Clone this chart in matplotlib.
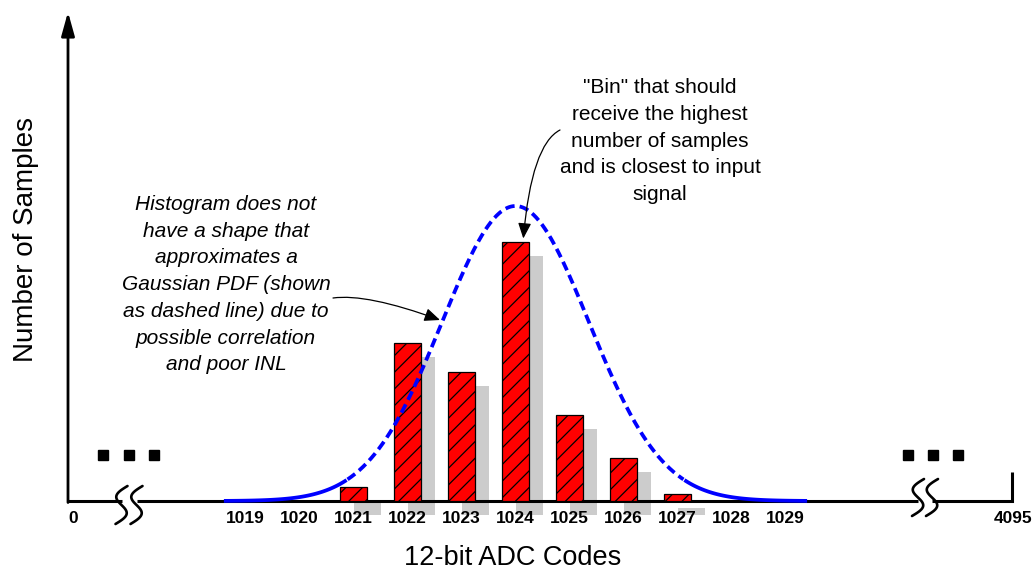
import numpy as np
import matplotlib
matplotlib.use("Agg")
import matplotlib.pyplot as plt
from matplotlib.transforms import Affine2D, ScaledTranslation

# ---------------- data ----------------
bin_codes = [1021, 1022, 1023, 1024, 1025, 1026, 1027]
bin_counts = [14, 158, 129, 259, 86, 43, 7]
axis_codes = [1019, 1020, 1021, 1022, 1023, 1024, 1025, 1026, 1027, 1028, 1029]
axis_end_labels = ["0", "4095"]
gauss_mean = 1024.0
gauss_sigma = 1.36
gauss_peak = 295.0
gauss_span = (1018.6, 1029.4)
gauss_dash_span = (1020.88, 1027.12)

left_note = ["Histogram does not", "have a shape that", "approximates a",
             "Gaussian PDF (shown", "as dashed line) due to",
             "possible correlation", "and poor INL"]
top_note = ['"Bin" that should', "receive the highest", "number of samples",
            "and is closest to input", "signal"]
x_title = "12-bit ADC Codes"
y_title = "Number of Samples"

# ---------------- layout ----------------
W, H = 1036, 571
DPI = 100
FONT = "Liberation Sans"
fig = plt.figure(figsize=(W / DPI, H / DPI), dpi=DPI)
ax = fig.add_axes([0, 0, 1, 1])
ax.axis("off")

px_per_code = 54.0
px_center = 515.5          # pixel x of code 1024
axis_y_px = 501.0          # pixel y of zero line
ax.set_xlim(1024 - px_center / px_per_code, 1024 + (W - px_center) / px_per_code)
ax.set_ylim(-(H - axis_y_px), axis_y_px)

# pixel (image) coordinate transform: x right, y down
pix = Affine2D().scale(1.0 / W, -1.0 / H).translate(0, 1) + fig.transFigure

# ---- shadows of bars (offset +14px, +14px) ----
shadow_off = ScaledTranslation(14 / DPI, -14 / DPI, fig.dpi_scale_trans)
shadows = ax.bar(bin_codes, bin_counts, width=0.51, color="#cccccc",
                 linewidth=0, zorder=1)
for p in shadows:
    p.set_transform(ax.transData + shadow_off)
    p.set_clip_on(False)

# ---- axes lines ----
axis_lw = 2.2
ax.plot([68, 121.5], [501, 501], color="black", lw=axis_lw, transform=pix,
        zorder=2, solid_capstyle="butt")
ax.plot([136.5, 918], [501, 501], color="black", lw=axis_lw, transform=pix,
        zorder=2, solid_capstyle="butt")
ax.plot([931.5, 1012, 1012], [501, 501, 472], color="black", lw=axis_lw,
        transform=pix, zorder=2, solid_capstyle="butt", solid_joinstyle="miter")

ax.annotate("", xy=(68, 12), xytext=(68, 502.5), xycoords=pix, textcoords=pix,
            arrowprops=dict(arrowstyle="-|>,head_length=0.72,head_width=0.2",
                            mutation_scale=20, lw=2.0, color="black",
                            shrinkA=0, shrinkB=0), zorder=2)

# break squiggles
s = np.linspace(-1, 1, 60)
def squiggle(xc, yc, h=19.0, a=8.0, b=6.0):
    xs = xc + a * np.sin(np.pi * s) - b * s
    ys = yc + h * s
    ax.plot(xs, ys, color="black", lw=1.9, transform=pix, zorder=2,
            solid_capstyle="round")

for xc in (121.5, 136.5):
    squiggle(xc, 505)
for xc in (918, 932):
    squiggle(xc, 497.5, h=18.5)

# ellipsis dots
for xs_ in ([103.3, 128.5, 154], [908, 933, 958]):
    ax.plot(xs_, [454.5] * 3, linestyle="none", marker="s", markersize=7.2,
            color="black", transform=pix, zorder=2)

# ---- red hatched bars ----
plt.rcParams["hatch.linewidth"] = 0.9
ax.bar(bin_codes, bin_counts, width=0.51, color="#ff0000", edgecolor="black",
       linewidth=0.9, hatch="//", zorder=3)

# ---- gaussian PDF ----
xg = np.linspace(gauss_span[0], gauss_span[1], 600)
yg = gauss_peak * np.exp(-0.5 * ((xg - gauss_mean) / gauss_sigma) ** 2)
left = xg <= gauss_dash_span[0]
right = xg >= gauss_dash_span[1]
mid = (xg >= gauss_dash_span[0]) & (xg <= gauss_dash_span[1])
ax.plot(xg[left], yg[left], color="#0000ff", lw=2.7, zorder=4,
        solid_capstyle="butt")
ax.plot(xg[right], yg[right], color="#0000ff", lw=2.7, zorder=4,
        solid_capstyle="butt")
ax.plot(xg[mid], yg[mid], color="#0000ff", lw=2.7, zorder=4,
        linestyle=(0, (2.5, 1.35)))

# ---- tick labels ----
tick_kw = dict(fontsize=12.5, fontweight="bold", family=FONT, ha="center",
               va="baseline", zorder=5)
label_y = -(523 - axis_y_px)
for c in axis_codes:
    ax.text(c, label_y, str(c), **tick_kw)
ax.text(73, 523, axis_end_labels[0], transform=pix, **tick_kw)
ax.text(1012.7, 523, axis_end_labels[1], transform=pix, **tick_kw)

# ---- axis titles ----
ax.text(512.5, 565, x_title, transform=pix, fontsize=19.5, family=FONT,
        ha="center", va="baseline")
ax.text(33, 240, y_title, transform=pix, fontsize=20, family=FONT,
        rotation=90, rotation_mode="anchor", ha="center", va="baseline")

# ---- notes ----
for i, line in enumerate(left_note):
    ax.text(226, 210 + 26.7 * i, line, transform=pix, fontsize=15,
            family=FONT, style="italic", ha="center", va="baseline", zorder=5)
for i, line in enumerate(top_note):
    ax.text(660, 93.3 + 26.7 * i, line, transform=pix, fontsize=15,
            family=FONT, ha="center", va="baseline", zorder=5)

arrow_kw = dict(arrowstyle="-|>,head_length=0.47,head_width=0.2",
                mutation_scale=20, lw=0.9, color="black",
                shrinkA=0, shrinkB=0)
ax.annotate("", xy=(440, 320), xytext=(333, 298), xycoords=pix,
            textcoords=pix, zorder=6,
            arrowprops=dict(connectionstyle="angle3,angleA=8,angleB=-20",
                            **arrow_kw))
ax.annotate("", xy=(523.3, 238.5), xytext=(560, 130), xycoords=pix,
            textcoords=pix, zorder=6,
            arrowprops=dict(connectionstyle="angle3,angleA=27,angleB=85",
                            **arrow_kw))

fig.savefig("out.png", dpi=DPI)
